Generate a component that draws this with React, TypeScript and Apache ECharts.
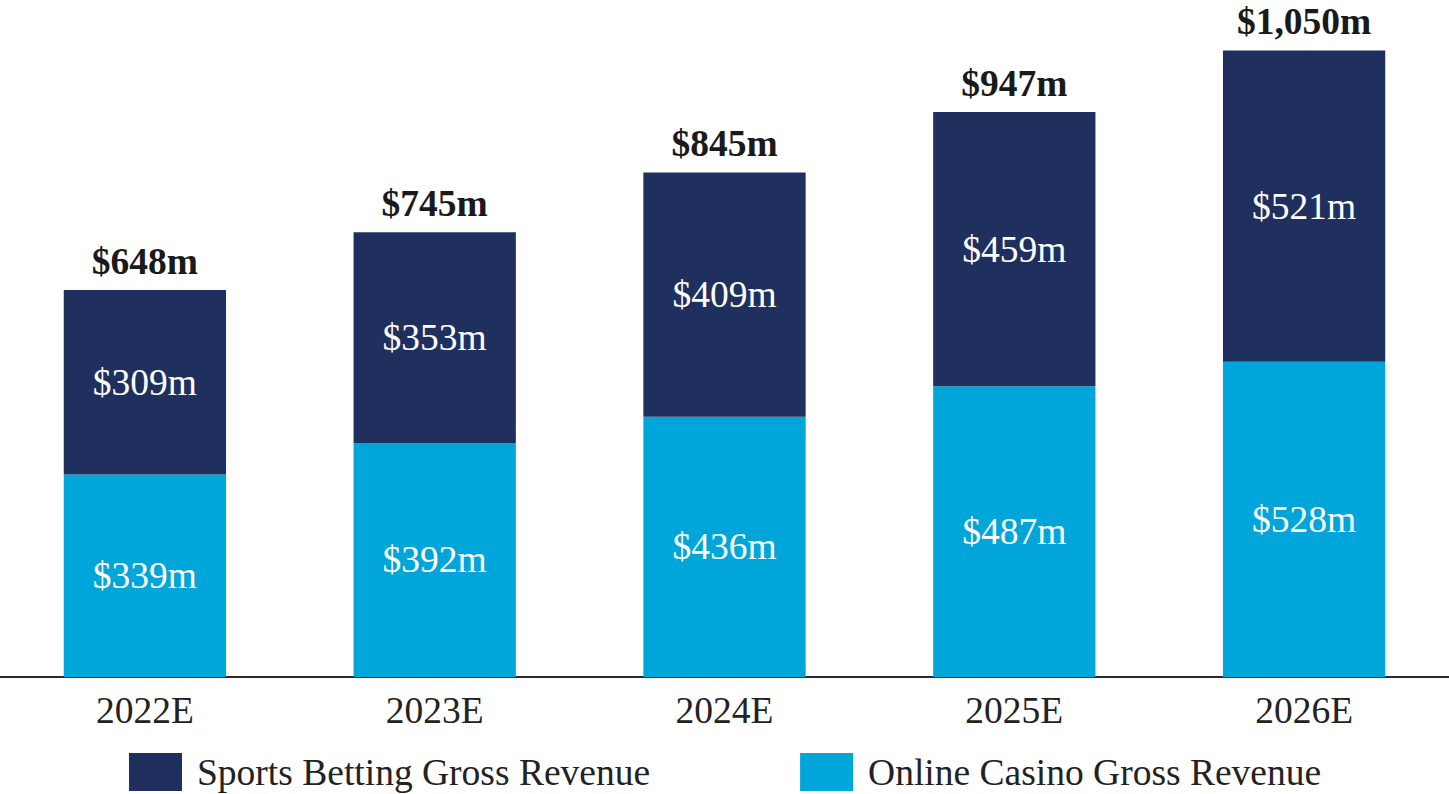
import React, { useEffect, useRef } from "react";
import * as echarts from "echarts";

const categories = ["2022E", "2023E", "2024E", "2025E", "2026E"];
const casinoValues = [339, 392, 436, 487, 528];
const sportsValues = [309, 353, 409, 459, 521];
const totalValues = [648, 745, 845, 947, 1050];

const SERIF = "'Liberation Serif', 'DejaVu Serif', serif";
const FS = 37.5;
const fmt = (v: number) => "$" + v.toLocaleString("en-US") + "m";

export default function App() {
  const ref = useRef<HTMLDivElement>(null);
  useEffect(() => {
    const chart = echarts.init(ref.current!, undefined, { renderer: "svg" });
    chart.setOption({
      animation: false,
      textStyle: { fontFamily: SERIF },
      grid: { left: 0, right: 0, top: 50, bottom: 117 },
      legend: {
        data: ["Sports Betting Gross Revenue", "Online Casino Gross Revenue"],
        left: 124,
        top: 748,
        itemWidth: 53,
        itemHeight: 38,
        itemGap: 150,
        icon: "rect",
        textStyle: { fontSize: FS, color: "#222", fontFamily: SERIF, padding: [0, 0, 0, 10] },
      },
      xAxis: {
        type: "category",
        data: categories,
        axisLine: { lineStyle: { color: "#2a2a2a", width: 2 } },
        axisTick: { show: false },
        axisLabel: { fontSize: FS, color: "#222", margin: 14, fontFamily: SERIF },
      },
      yAxis: {
        type: "value",
        min: 0,
        max: 1050,
        show: false,
        splitLine: { show: false },
      },
      series: [
        {
          name: "Online Casino Gross Revenue",
          type: "bar",
          stack: "total",
          barWidth: "56%",
          data: casinoValues,
          itemStyle: { color: "#00a6d9" },
          label: {
            show: true,
            position: "inside",
            color: "#fff",
            fontSize: FS,
            fontFamily: SERIF,
            formatter: (p: any) => fmt(p.value),
          },
        },
        {
          name: "Sports Betting Gross Revenue",
          type: "bar",
          stack: "total",
          barWidth: "56%",
          data: sportsValues,
          itemStyle: { color: "#1f305e" },
          label: {
            show: true,
            position: "inside",
            color: "#fff",
            fontSize: FS,
            fontFamily: SERIF,
            formatter: (p: any) => fmt(p.value),
          },
        },
        {
          name: "Total",
          type: "bar",
          stack: "total",
          barWidth: "56%",
          data: totalValues.map(() => 0),
          itemStyle: { color: "transparent" },
          label: {
            show: true,
            position: "top",
            distance: 10,
            color: "#1a1a1a",
            fontSize: FS,
            fontWeight: "bold",
            fontFamily: SERIF,
            formatter: (p: any) => fmt(totalValues[p.dataIndex]),
          },
        },
      ],
    });
    return () => chart.dispose();
  }, []);
  return (
    <div
      ref={ref}
      style={{ position: "fixed", left: 0, top: 0, width: 1449, height: 794, background: "#fff" }}
    />
  );
}
